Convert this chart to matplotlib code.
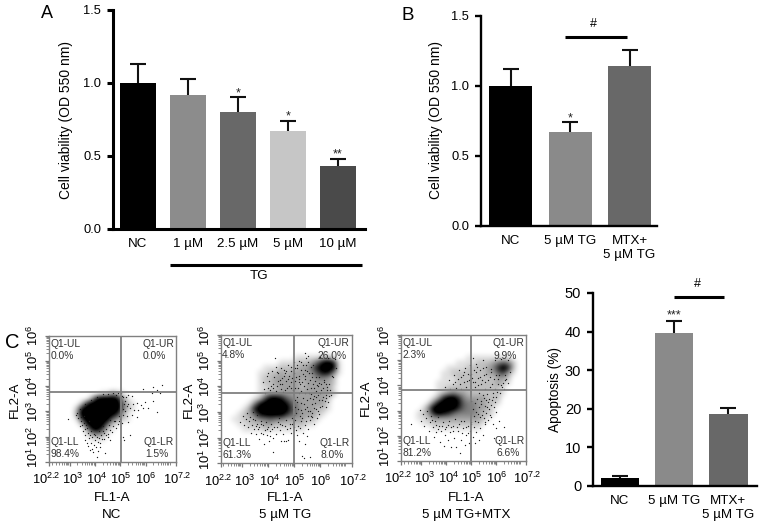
import numpy as np
import matplotlib
matplotlib.use('Agg')
import matplotlib.pyplot as plt
from matplotlib.lines import Line2D
from matplotlib.transforms import ScaledTranslation

plt.rcParams['font.family'] = ['Liberation Sans', 'DejaVu Sans']
plt.rcParams['mathtext.fontset'] = 'custom'
plt.rcParams['mathtext.rm'] = 'Liberation Sans'
plt.rcParams['mathtext.default'] = 'rm'

W, H = 765, 531

# bar panels
a_labels = ['NC', '1 µM', '2.5 µM', '5 µM', '10 µM']
a_values = [1.0, 0.92, 0.80, 0.67, 0.43]
a_tops = [1.13, 1.03, 0.90, 0.74, 0.48]
a_colors = ['#000000', '#8c8c8c', '#686868', '#c6c6c6', '#4a4a4a']
a_stars = ['', '', '*', '*', '**']

b_labels = ['NC', '5 µM TG', 'MTX+\n5 µM TG']
b_values = [1.0, 0.67, 1.14]
b_tops = [1.12, 0.74, 1.26]
b_colors = ['#000000', '#8a8a8a', '#686868']
b_stars = ['', '*', '']

d_values = [2.1, 39.6, 18.5]
d_tops = [2.4, 42.7, 20.2]
d_stars = ['', '***', '']

# flow cytometry: darkness per 0.2 decade cell (0-9), top row is FL2-A 10^6, left column FL1-A 10^2.2
blank = '0' * 25
nc_density = [blank] * 11 + [
    '0000000000113210000000000',
    '0000000038999831000000000',
    '0000002799999952100000000',
    '0000028999999952100000000',
    '0000039999999731000000000',
    '0000017999995321000000000',
    '0000002899952100000000000',
    '0000000389621000000000000',
    '0000000134310000000000000',
    '0000000011100000000000000',
] + [blank] * 4

tg_density = [blank] * 4 + [
    '0000000000000011111221000',
    '0000000000011122235897100',
    '0000000011122223358999100',
    '0000000112232333346884100',
    '0000000122333333334432000',
    '0000000122333332333332000',
    '0000000112233332333331000',
    '0000000123333333333332000',
    '0000001269985433333320000',
    '0000014899998543333310000',
    '0000138999999643332210000',
    '0001235899997543332100000',
    '0011223445443333221000000',
    '0001122233222222110000000',
    '0000111121111111000000000',
] + [blank] * 6

mtx_density = [blank] * 4 + [
    '0000000000000111111111000',
    '0000000000011112223454200',
    '0000000001111222234797200',
    '0000000011222222233563100',
    '0000000011122222222332000',
    '0000000111122222222321000',
    '0000000112222222222210000',
    '0000000123433222222210000',
    '0000001379974333322200000',
    '0000014899985443322100000',
    '0000149999975443321000000',
    '0001237987544443221000000',
    '0001123333333333210000000',
    '0000112222222222100000000',
    '0000001111111111000000000',
] + [blank] * 6

# loose events, log10 of FL1-A and FL2-A
nc_dots = [(2.95, 2.68), (3.3, 2.95), (3.35, 2.75), (3.45, 2.6), (3.5, 2.45), (3.55, 2.8), (3.6, 2.3), (3.62, 2.05),
           (3.67, 1.73), (3.6, 1.86), (3.72, 2.15), (3.78, 1.95), (3.8, 1.46), (3.85, 1.75), (3.9, 2.0), (3.94, 1.4),
           (4.0, 1.85), (4.05, 1.6), (4.07, 1.2), (4.1, 2.0), (4.2, 1.75), (4.25, 2.05), (4.3, 2.2), (4.35, 1.9),
           (4.4, 1.33), (4.45, 2.3), (4.5, 2.1), (4.6, 1.86), (4.55, 2.45), (4.7, 2.4), (4.8, 2.6), (4.9, 2.5),
           (5.0, 2.7), (5.1, 2.85), (5.12, 2.0), (5.16, 1.86), (5.2, 3.0), (5.25, 2.8), (5.3, 3.3), (5.32, 3.65),
           (5.32, 2.59), (5.38, 2.06), (5.4, 3.15), (5.45, 3.62), (5.45, 2.85), (5.5, 3.3), (5.55, 3.05), (5.65, 3.31),
           (5.67, 2.79), (5.71, 3.05), (5.8, 3.25), (5.91, 3.12), (5.91, 3.87), (5.98, 3.38), (6.11, 3.12), (6.24, 3.71),
           (6.28, 3.95), (6.31, 3.41), (6.44, 3.84), (6.46, 2.96), (6.57, 3.71), (6.63, 4.04), (5.12, 3.55), (5.2, 3.4),
           (5.05, 3.62), (4.9, 3.72), (4.7, 3.74), (4.5, 3.7), (4.3, 3.68), (4.1, 3.55), (3.85, 3.45), (3.6, 3.3),
           (3.42, 3.1), (3.25, 2.85), (3.75, 2.6), (3.95, 2.1), (4.15, 2.2), (4.6, 2.65), (5.1, 3.1), (5.25, 3.2),
           (3.4, 2.4), (3.52, 2.2), (3.7, 2.35), (3.85, 2.2), (4.0, 2.05), (4.15, 1.95), (4.3, 2.4), (4.42, 2.05),
           (4.6, 2.25), (4.75, 2.6), (4.95, 2.8), (5.05, 2.55), (5.15, 3.3), (5.22, 3.55), (5.02, 3.72), (4.82, 3.66),
           (3.73, 1.62), (3.88, 1.52), (3.97, 1.68), (4.13, 1.77), (4.22, 1.58), (4.28, 1.91), (4.11, 1.43), (3.81, 2.07),
           (4.52, 1.97), (4.67, 2.16), (4.37, 2.13), (4.83, 2.34), (4.97, 2.62), (3.58, 2.53), (3.47, 2.77), (3.66, 2.47)]

tg_dots = [(2.95, 2.62), (3.05, 2.85), (3.1, 2.5), (3.15, 2.72), (3.2, 2.95), (3.25, 2.4), (3.28, 2.63), (3.32, 2.82),
           (3.35, 2.2), (3.4, 2.5), (3.42, 2.98), (3.48, 2.35), (3.5, 2.7), (3.55, 2.15), (3.58, 2.55), (3.6, 2.88),
           (3.65, 1.95), (3.68, 2.4), (3.72, 2.65), (3.75, 2.2), (3.8, 2.48), (3.85, 1.75), (3.88, 2.3), (3.92, 2.6),
           (3.95, 2.1), (4.0, 2.42), (4.05, 1.85), (4.1, 2.25), (4.12, 2.55), (4.2, 2.0), (4.2, 1.45), (4.25, 2.4),
           (4.3, 2.15), (4.38, 2.6), (4.45, 2.3), (4.5, 1.85), (4.55, 2.5), (4.62, 1.85), (4.7, 1.85), (4.72, 2.35),
           (4.78, 1.9), (4.85, 2.55), (4.9, 2.2), (5.0, 2.4), (5.05, 2.7), (5.1, 2.1), (5.15, 2.45), (5.2, 1.85),
           (5.25, 2.65), (5.3, 1.3), (5.35, 2.2), (5.38, 1.2), (5.4, 1.75), (5.42, 2.5), (5.5, 2.05), (5.55, 2.35),
           (5.6, 1.25), (5.6, 2.7), (5.7, 2.95), (5.75, 2.55), (3.8, 4.15), (3.85, 3.9), (3.95, 4.4), (4.0, 3.95),
           (4.05, 4.2), (4.1, 3.85), (4.15, 4.6), (4.2, 4.1), (4.25, 4.35), (4.3, 3.8), (4.3, 4.75), (4.35, 4.0),
           (4.4, 4.5), (4.45, 4.25), (4.5, 3.9), (4.5, 4.7), (4.55, 4.1), (4.6, 4.4), (4.27, 5.12), (4.65, 3.85),
           (4.7, 4.6), (4.7, 4.2), (4.75, 4.85), (4.8, 4.0), (4.82, 4.4), (4.9, 4.75), (4.9, 4.15), (4.95, 3.85),
           (5.0, 4.5), (5.0, 4.95), (5.05, 4.2), (5.1, 4.7), (5.15, 3.95), (5.2, 4.4), (5.2, 5.0), (5.25, 4.65),
           (5.3, 4.15), (5.35, 4.85), (5.4, 4.4), (5.45, 5.1), (5.5, 3.9), (5.5, 4.6), (5.55, 4.95), (5.6, 4.25),
           (5.65, 3.7), (5.65, 4.75), (5.7, 4.5), (5.75, 3.95), (5.8, 4.2), (5.85, 3.6), (5.9, 4.0), (5.95, 4.35),
           (6.0, 3.75), (6.05, 3.45), (6.1, 3.95), (6.15, 4.25), (6.2, 3.55), (6.2, 3.2), (6.25, 3.85), (6.3, 3.4),
           (6.35, 4.1), (6.4, 3.65), (6.45, 4.4), (6.0, 3.2), (5.9, 3.05), (5.8, 3.35), (5.7, 3.3), (5.6, 3.05),
           (5.5, 3.45), (5.4, 3.1), (5.35, 3.55), (5.3, 2.95), (5.25, 3.35), (5.15, 3.1), (5.1, 3.6), (5.05, 3.2),
           (5.0, 2.9), (5.4, 5.3), (5.55, 5.2), (6.0, 5.15), (6.3, 5.1), (6.55, 5.05), (6.6, 4.7), (6.5, 4.35),
           (3.9, 3.75), (4.02, 4.5), (4.18, 3.95), (4.38, 4.2), (4.58, 3.78), (4.62, 4.62), (4.78, 4.3), (4.88, 3.95),
           (5.02, 4.7), (5.18, 4.15), (5.28, 3.8), (5.42, 4.65), (5.58, 3.75), (5.72, 4.1), (5.82, 3.8), (6.02, 4.1),
           (6.22, 4.1), (6.12, 3.6), (5.95, 3.45), (5.62, 3.55), (5.48, 3.2), (5.22, 2.85), (5.12, 3.4), (5.42, 3.75),
           (5.68, 2.8), (5.88, 2.75), (5.52, 2.85), (5.32, 2.75), (5.08, 2.95), (4.92, 2.75), (4.68, 2.7), (4.42, 2.75),
           (4.13, 4.03), (4.33, 4.57), (4.47, 4.08), (4.53, 4.31), (4.67, 4.51), (4.73, 3.92), (4.87, 4.58), (4.93, 4.33),
           (5.03, 3.93), (5.07, 4.37), (5.13, 4.82), (5.17, 4.29), (5.23, 4.09), (5.27, 4.93), (5.33, 4.47), (5.37, 4.03),
           (5.43, 4.27), (5.47, 4.83), (5.53, 4.12), (5.57, 4.53), (5.63, 3.93), (5.67, 4.37), (5.73, 4.83), (5.77, 3.63),
           (5.83, 4.37), (5.87, 4.07), (5.93, 3.67), (5.97, 4.13), (6.03, 3.87), (6.07, 3.23), (6.13, 4.17), (6.17, 3.43),
           (6.23, 3.67), (6.27, 3.97), (6.33, 3.62), (6.38, 3.87), (5.97, 2.93), (5.83, 3.13), (5.73, 3.52), (5.53, 3.03),
           (5.37, 3.33), (5.27, 3.07), (5.17, 3.73), (5.03, 3.47), (4.97, 3.13), (5.63, 2.83), (5.47, 2.63), (5.77, 3.17),
           (3.43, 2.73), (3.53, 2.47), (3.63, 2.33), (3.73, 2.53), (3.83, 2.13), (3.97, 2.33), (4.08, 2.07), (4.17, 2.33),
           (4.33, 2.43), (4.47, 2.53), (4.57, 2.13), (4.67, 2.47), (4.83, 2.37), (4.93, 2.53), (5.07, 2.28), (5.23, 2.37)]

mtx_dots = [(2.6, 2.47), (2.96, 3.02), (3.0, 2.6), (3.05, 2.85), (3.12, 2.4), (3.18, 2.7), (3.22, 2.98), (3.3, 2.2),
            (3.35, 2.55), (3.4, 2.8), (3.45, 2.35), (3.5, 1.95), (3.55, 2.6), (3.6, 2.15), (3.65, 2.75), (3.7, 2.4),
            (3.75, 1.75), (3.8, 2.2), (3.85, 2.55), (3.9, 1.6), (3.95, 2.05), (4.0, 2.35), (4.05, 1.85), (4.1, 2.6),
            (4.15, 2.15), (4.2, 1.55), (4.25, 2.4), (4.3, 1.9), (4.35, 2.65), (4.4, 1.57), (4.45, 2.2), (4.5, 2.45),
            (4.53, 1.3), (4.6, 1.85), (4.65, 2.3), (4.7, 2.6), (4.75, 1.65), (4.8, 2.05), (4.85, 2.4), (4.9, 1.7),
            (4.95, 2.2), (5.0, 2.55), (5.05, 1.95), (5.1, 2.35), (5.15, 1.7), (5.2, 2.15), (5.25, 2.55), (5.3, 1.85),
            (5.35, 2.3), (5.45, 2.05), (5.55, 2.45), (5.9, 1.9), (6.1, 1.85), (3.95, 3.95), (4.1, 4.2), (4.15, 3.85),
            (4.25, 4.05), (4.3, 4.4), (4.4, 3.9), (4.45, 4.25), (4.5, 4.6), (4.55, 4.05), (4.6, 3.85), (4.65, 4.4),
            (4.7, 4.15), (4.75, 4.7), (4.8, 3.95), (4.85, 4.45), (4.9, 4.2), (4.95, 4.8), (5.0, 3.85), (5.0, 4.45),
            (5.05, 4.15), (5.07, 5.1), (5.1, 4.6), (5.15, 3.95), (5.2, 4.85), (5.25, 4.3), (5.3, 3.7), (5.35, 4.6),
            (5.4, 4.05), (5.45, 5.0), (5.5, 3.5), (5.5, 4.4), (5.55, 3.85), (5.6, 4.75), (5.65, 4.2), (5.7, 3.45),
            (5.75, 3.95), (5.8, 4.55), (5.85, 3.7), (5.9, 4.25), (5.95, 5.0), (6.0, 3.55), (6.05, 4.05), (6.1, 4.4),
            (6.15, 3.7), (6.2, 5.05), (6.25, 4.1), (6.3, 3.85), (6.35, 4.4), (6.45, 5.0), (6.55, 4.55), (6.45, 4.1),
            (5.0, 3.4), (5.05, 3.05), (5.1, 2.8), (5.15, 3.3), (5.2, 2.95), (5.3, 3.15), (5.35, 2.75), (5.4, 3.4),
            (5.45, 3.0), (5.5, 2.7), (5.55, 3.2), (5.6, 2.9), (5.65, 3.35), (5.7, 3.05), (5.8, 2.75), (5.85, 2.45),
            (5.9, 3.15), (6.0, 2.95), (6.1, 2.6), (6.3, 2.35), (6.0, 2.3),
            (4.33, 4.12), (4.57, 4.32), (4.72, 4.53), (4.83, 4.17), (4.93, 4.42), (5.03, 4.28), (5.13, 4.13), (5.17, 4.52),
            (5.23, 4.72), (5.27, 4.03), (5.33, 4.33), (5.43, 4.22), (5.47, 4.68), (5.53, 4.13), (5.57, 4.47), (5.63, 3.67),
            (5.73, 4.33), (5.77, 4.67), (5.83, 4.07), (5.87, 3.53), (5.93, 3.87), (5.97, 4.42), (6.03, 3.73), (6.07, 4.27),
            (6.17, 4.03), (6.23, 3.92), (6.33, 4.23), (6.4, 4.27), (5.23, 3.47), (5.37, 3.27), (5.47, 3.63), (5.57, 3.43),
            (5.63, 3.13), (5.77, 3.23), (5.83, 3.43), (5.93, 3.33), (5.27, 2.87), (5.43, 2.83), (5.53, 2.53), (5.67, 2.63),
            (5.73, 2.83), (4.43, 2.33), (4.57, 2.57), (4.63, 2.13), (4.77, 2.33), (4.87, 2.13), (4.97, 2.47), (5.13, 2.57),
            (3.43, 2.63), (3.57, 2.43), (3.67, 2.27), (3.83, 2.37), (3.93, 2.27), (4.07, 2.43), (4.17, 2.33), (4.27, 2.2)]

flow_names = ['NC', '5 µM TG', '5 µM TG+MTX']
flow_pct = [['0.0%', '0.0%', '98.4%', '1.5%'], ['4.8%', '26.0%', '61.3%', '8.0%'], ['2.3%', '9.9%', '81.2%', '6.6%']]
flow_gate_x = [5.04, 5.01, 5.0]
flow_gate_y = [3.76, 3.73, 3.82]
x_tick_pos = [2.2, 3, 4, 5, 6, 7.2]
x_tick_txt = ['$10^{2.2}$', '$10^{3}$', '$10^{4}$', '$10^{5}$', '$10^{6}$', '$10^{7.2}$']
y_tick_pos = [1, 2, 3, 4, 5, 6]
y_tick_txt = ['$10^{1}$', '$10^{2}$', '$10^{3}$', '$10^{4}$', '$10^{5}$', '$10^{6}$']


def px_axes(left, top, right, bottom):
    return fig.add_axes([left / W, 1 - bottom / H, (right - left) / W, (bottom - top) / H])


def px_text(x, y, s, **kw):
    kw.setdefault('ha', 'center')
    kw.setdefault('va', 'center')
    return fig.text(x / W, 1 - y / H, s, **kw)


def px_line(x0, x1, y, lw=2.2):
    fig.add_artist(Line2D([x0 / W, x1 / W], [1 - y / H, 1 - y / H], color='black', lw=lw, solid_capstyle='butt'))


def bar_panel(box, labels, values, tops, colors, stars, ylim, yticks, ylabels, xlim, spine=1.7, star_off=0.03, tick_size=9.3):
    ax = px_axes(*box)
    pos = np.arange(len(values))
    ax.bar(pos, values, width=0.72, color=colors, zorder=2)
    for p, v, t in zip(pos, values, tops):
        eb = ax.errorbar(p, v, yerr=[[0], [t - v]], color='#111111', elinewidth=1.5, capsize=5.8, capthick=1.5, zorder=1)
        eb[1][0].set_visible(False)
    for p, t, s in zip(pos, tops, stars):
        if s:
            ax.text(p, t + star_off, s, ha='center', va='center', fontsize=9, color='#222222')
    ax.set_xlim(*xlim)
    ax.set_ylim(*ylim)
    ax.set_yticks(yticks, ylabels)
    ax.set_xticks(pos, labels)
    ax.tick_params(axis='y', length=4.5, width=spine, labelsize=tick_size, pad=4)
    ax.tick_params(axis='x', length=0, labelsize=9.6, pad=7)
    for name in ['top', 'right']:
        ax.spines[name].set_visible(False)
    for name in ['left', 'bottom']:
        ax.spines[name].set_linewidth(spine)
    ax.patch.set_alpha(0)
    return ax


def flow_panel(box, density, dots, pct, gx, gy):
    ax = px_axes(*box)
    grid = np.array([[int(c) for c in row] for row in density])
    ax.imshow(grid, extent=(2.2, 7.2, 1, 6), cmap='gray_r', vmin=0, vmax=8, aspect='auto',
              interpolation='bicubic', zorder=1)
    d = np.array(dots)
    ax.scatter(d[:, 0], d[:, 1], s=0.9, color='#1a1a1a', lw=0, zorder=3)
    ax.set_xlim(2.2, 7.2)
    ax.set_ylim(1, 6)
    ax.axvline(gx, color='#808080', lw=1.3, zorder=4)
    ax.axhline(gy, color='#808080', lw=1.3, zorder=4)
    ax.set_xticks(x_tick_pos, x_tick_txt)
    ax.set_yticks(y_tick_pos, y_tick_txt)
    # the log style tick groups of the cytometer software
    ax.set_xticks([np.log10(k * 10.0 ** e) for e in range(2, 8) for k in range(2, 10)
                   if 2.2 < np.log10(k * 10.0 ** e) < 7.2], minor=True)
    ax.set_yticks([np.log10(k * 10.0 ** e) for e in range(1, 6) for k in range(2, 10)], minor=True)
    ax.tick_params(which='major', length=3.2, width=0.9, color='#777777', labelsize=9.3)
    ax.tick_params(which='minor', length=2.4, width=0.6, color='#777777')
    ax.tick_params(axis='x', which='major', pad=4)
    ax.tick_params(axis='y', which='major', labelrotation=90, pad=2.5)
    for lab in ax.get_yticklabels():
        lab.set_va('center')
    # end labels are pushed apart so they only touch their neighbours
    for lab, dx in zip(ax.get_xticklabels(), [-2, 2, 1.5, 0.5, 0, 1]):
        lab.set_transform(lab.get_transform() + ScaledTranslation(dx / 72, 0, fig.dpi_scale_trans))
    first_y = ax.get_yticklabels()[0]
    first_y.set_transform(first_y.get_transform() + ScaledTranslation(0, 3 / 72, fig.dpi_scale_trans))
    for s in ax.spines.values():
        s.set_color('#808080')
        s.set_linewidth(1.0)
    kw = dict(fontsize=7.4, color='#333333', linespacing=1.25, zorder=5)
    ax.text(0.012, 0.975, 'Q1-UL\n' + pct[0], transform=ax.transAxes, ha='left', va='top', **kw)
    ax.text(0.985, 0.975, 'Q1-UR', transform=ax.transAxes, ha='right', va='top', **kw)
    ax.text(0.74, 0.875, pct[1], transform=ax.transAxes, ha='left', va='top', **kw)
    ax.text(0.012, 0.025, 'Q1-LL\n' + pct[2], transform=ax.transAxes, ha='left', va='bottom', **kw)
    ax.text(0.985, 0.12, 'Q1-LR', transform=ax.transAxes, ha='right', va='bottom', **kw)
    ax.text(0.76, 0.025, pct[3], transform=ax.transAxes, ha='left', va='bottom', **kw)
    return ax


fig = plt.figure(figsize=(W / 100, H / 100), dpi=100, facecolor='white')

ax_a = bar_panel((113, 10, 365, 228.7), a_labels, a_values, a_tops, a_colors, a_stars, (0, 1.5),
                 [0, 0.5, 1.0, 1.5], ['0.0', '0.5', '1.0', '1.5'], (-0.5, 4.54), spine=2.2)
ax_b = bar_panel((481, 16, 657, 225.7), b_labels, b_values, b_tops, b_colors, b_stars, (0, 1.5),
                 [0, 0.5, 1.0, 1.5], ['0.0', '0.5', '1.0', '1.5'], (-0.496, 2.46))
ax_d = bar_panel((593, 293, 756.7, 485.7), b_labels, d_values, d_tops, b_colors, d_stars, (0, 50),
                 [0, 10, 20, 30, 40, 50], ['0', '10', '20', '30', '40', '50'], (-0.5, 2.53), star_off=1.4, tick_size=10.5)

px_text(66, 120, 'Cell viability (OD 550 nm)', rotation=90, fontsize=10)
px_text(436, 120, 'Cell viability (OD 550 nm)', rotation=90, fontsize=10)
px_text(555, 390, 'Apoptosis (%)', rotation=90, fontsize=9.8)

px_line(170, 362, 265)
px_text(259, 276, 'TG', fontsize=9.6)
px_line(565, 627, 37)
px_text(593, 24, '#', fontsize=9)
px_line(674, 724, 296.7)
px_text(697.7, 284, '#', fontsize=9)

px_text(47, 14, 'A', fontsize=13)
px_text(408, 15, 'B', fontsize=13.5)
px_text(12, 342, 'C', fontsize=14.5)

ax_c1 = flow_panel((49.3, 335.7, 176, 461.7), nc_density, nc_dots, flow_pct[0], flow_gate_x[0], flow_gate_y[0])
ax_c2 = flow_panel((220.7, 335, 351.7, 463.3), tg_density, tg_dots, flow_pct[1], flow_gate_x[1], flow_gate_y[1])
ax_c3 = flow_panel((401.3, 335, 526.3, 461), mtx_density, mtx_dots, flow_pct[2], flow_gate_x[2], flow_gate_y[2])

for cx, name in zip([112, 285, 466], flow_names):
    px_text(cx, 498, 'FL1-A', fontsize=9.6)
    px_text(cx, 515, name, fontsize=9.6)
for lx, ly in [(15, 400), (189, 400), (366, 398)]:
    px_text(lx, ly, 'FL2-A', rotation=90, fontsize=9.6)

fig.savefig('out.png', dpi=100)
